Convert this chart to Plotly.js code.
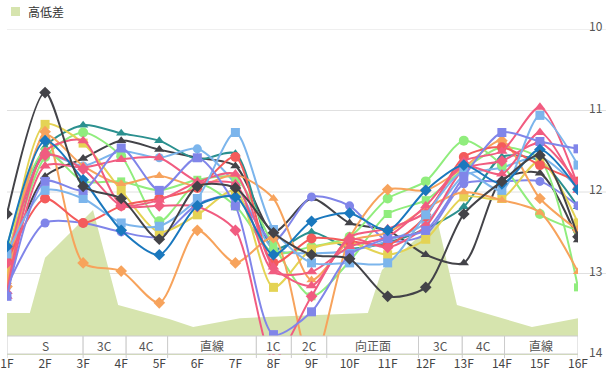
<!DOCTYPE html>
<html><head><meta charset="utf-8">
<script src="https://cdn.plot.ly/plotly-3.0.1.min.js"></script>
<style>html,body{margin:0;padding:0;background:#fff}#chart{width:611px;height:374px}</style>
</head><body><div id="chart"></div>
<script>
const categories = ['1F','2F','3F','4F','5F','6F','7F','8F','9F','10F','11F','12F','13F','14F','15F','16F'];

const darkDiamond    = [12.27,10.78,11.93,12.08,12.58,11.93,11.95,12.50,12.77,12.82,13.28,13.17,12.27,11.87,11.55,12.55];
const darkTriangle   = [12.90,11.81,11.59,11.37,11.48,11.58,11.68,12.49,12.08,12.38,12.47,12.77,12.87,11.85,11.77,12.59];
const tealTriangle   = [12.92,11.45,11.18,11.28,11.37,11.60,11.53,12.70,12.49,12.69,12.62,12.45,12.18,11.57,11.62,12.18];
const blueDiamond    = [12.67,11.37,11.85,12.47,12.77,12.17,12.06,12.77,12.36,12.26,12.47,11.98,11.67,11.90,11.48,11.97];
const lightBlueSquare= [12.76,11.98,12.08,12.38,12.42,12.08,11.27,12.46,12.87,12.87,12.87,12.28,11.75,11.98,11.06,11.67];
const lightBlueCircle= [12.80,11.55,11.68,11.50,11.58,11.47,11.90,12.70,12.75,12.72,12.60,12.38,11.80,11.70,11.57,11.95];
const purpleSquare   = [13.28,11.87,11.98,11.46,11.98,11.58,12.17,13.75,13.47,12.77,12.57,12.47,11.81,11.27,11.38,11.47];
const purpleCircle   = [13.16,12.38,12.38,12.49,12.55,12.15,12.05,12.60,12.06,12.17,12.60,12.52,11.90,11.87,11.87,12.17];
const pinkTriangle   = [13.28,11.68,11.70,11.60,11.58,11.87,11.90,12.98,12.98,12.67,12.55,12.17,11.68,11.78,11.27,11.98];
const pinkTriangle2  = [13.22,11.50,11.37,12.15,12.10,11.88,11.78,12.92,13.15,12.55,12.45,12.25,11.62,11.50,10.96,11.93];
const pinkDiamond    = [12.87,11.55,11.72,12.17,12.17,12.18,12.47,14.05,13.28,12.58,12.68,12.42,11.72,11.62,11.40,11.90];
const redCircle      = [12.85,12.08,12.38,12.17,12.08,11.95,11.57,12.87,12.57,12.60,12.65,12.30,11.57,11.45,11.67,11.87];
const orangeDiamond  = [13.16,11.26,12.87,12.97,13.36,12.47,12.87,12.56,14.15,12.57,11.97,11.98,11.70,11.37,12.08,12.47];
const orangeTriangle = [13.10,11.30,11.68,11.90,11.80,11.93,11.79,12.08,13.08,12.60,12.50,12.20,12.00,12.10,12.25,12.98];
const yellowSquare   = [12.95,11.17,11.40,11.98,12.49,12.28,11.98,13.17,12.70,12.62,12.77,12.58,12.06,12.08,11.62,12.38];
const greenSquare    = [12.66,11.50,11.87,11.87,11.98,11.85,11.83,12.65,13.28,12.85,12.27,12.10,11.72,11.45,11.60,13.17];
const greenCircle    = [12.97,11.57,11.27,11.56,12.36,11.90,12.17,12.75,12.67,12.55,12.08,11.87,11.37,11.67,12.27,12.47];

// elevation profile (高低差), position along course in furlong units
const elevX = [0,0.6,1,2.26,2.92,4.28,4.89,6.12,9.48,9.85,11.3,11.82,13.79,15];
const elevY = [1.29,1.29,2.98,4.45,1.53,1.10,0.86,1.13,1.29,2.61,4.14,1.53,0.86,1.13];

const sections = ['S','3C','4C','直線','1C','2C','向正面','3C','4C','直線'];
const sectionBounds = [0,2,3.13,4.22,6.55,7.47,8.40,10.81,11.96,13.07,15];
const yTicks = [10,11,12,13,14];

const FONT = '"Noto Sans CJK JP","Noto Sans",sans-serif';

const seriesDefs = [
  [darkTriangle,'#434348','triangle-up',9],
  [tealTriangle,'#2b908f','triangle-up',9],
  [lightBlueCircle,'#7cb5ec','circle',9],
  [purpleCircle,'#8085e9','circle',9],
  [greenCircle,'#90ed7d','circle',10],
  [greenSquare,'#90ed7d','square',8],
  [yellowSquare,'#e4d354','square',9],
  [orangeTriangle,'#f7a35c','triangle-up',9],
  [orangeDiamond,'#f7a35c','diamond',9],
  [redCircle,'#f45b5b','circle',10],
  [pinkDiamond,'#f15c80','diamond',9],
  [pinkTriangle2,'#f15c80','triangle-up',10],
  [pinkTriangle,'#f15c80','triangle-up',10],
  [lightBlueSquare,'#7cb5ec','square',9],
  [purpleSquare,'#8085e9','square',9],
  [blueDiamond,'#1a78be','diamond',9],
  [darkDiamond,'#434348','diamond',9]
];

const traces = [{
  x: elevX, y: elevY, type:'scatter', mode:'lines', fill:'tozeroy',
  fillcolor:'rgb(214,228,174)', line:{color:'rgb(214,228,174)', width:0},
  xaxis:'x', yaxis:'y', name:'高低差', hoverinfo:'skip'
}];
seriesDefs.forEach(([vals,color,sym,size])=>{
  traces.push({
    x: categories, y: vals, type:'scatter', mode:'lines+markers',
    line:{color:color, width:2, shape:'spline', smoothing:0.75},
    marker:{color:color, symbol:sym, size:size},
    xaxis:'x2', yaxis:'y2'
  });
});

const shapes = [];
yTicks.slice(0,4).forEach(v=>{
  shapes.push({type:'line', xref:'paper', yref:'y2', x0:0, x1:(606-7)/571, y0:v, y1:v,
    line:{color:'#e0e0e0', width:1}, layer:'below'});
});
const tTop = (355-336)/326, tBot = (355-354)/326;
for (let i=0;i<sections.length;i++){
  shapes.push({type:'rect', xref:'x', yref:'paper', x0:sectionBounds[i], x1:sectionBounds[i+1],
    y0:tBot, y1:tTop, fillcolor:'#ffffff', line:{color:'#cccccc', width:1}, layer:'above'});
}
sectionBounds.forEach(b=>{
  shapes.push({type:'line', xref:'x', yref:'paper', x0:b, x1:b, y0:tBot, y1:-(3/326),
    line:{color:'#cccccc', width:1}, layer:'above'});
});
shapes.push({type:'rect', xref:'paper', yref:'paper', x0:(11-7)/571, x1:(20-7)/571,
  y0:(355-16)/326, y1:(355-7)/326, fillcolor:'rgb(214,228,174)', line:{width:0}});

const annotations = sections.map((s,i)=>({
  text:s, xref:'x', yref:'paper', x:(sectionBounds[i]+sectionBounds[i+1])/2, y:(tTop+tBot)/2,
  showarrow:false, font:{family:FONT, size:12, color:'#555'}, xanchor:'center', yanchor:'middle'
}));
annotations.push({text:'高低差', xref:'paper', yref:'paper', x:(26-7)/571, y:(355-11.5)/326,
  showarrow:false, xanchor:'left', yanchor:'middle', font:{family:FONT, size:12, color:'#333'}});

const layout = {
  width:611, height:374, margin:{l:7, r:33, t:29, b:19, pad:0},
  paper_bgcolor:'#ffffff', plot_bgcolor:'rgba(0,0,0,0)', showlegend:false,
  xaxis:{type:'linear', range:[0,15], visible:false, fixedrange:true},
  yaxis:{type:'linear', range:[0,10], visible:false, fixedrange:true},
  xaxis2:{type:'category', overlaying:'x', anchor:'y2', side:'bottom', range:[0,15],
    showgrid:false, zeroline:false, showline:false, ticks:'',
    tickfont:{family:FONT, size:12, color:'#444'}},
  yaxis2:{overlaying:'y', anchor:'x2', side:'right', range:[14,10], tickvals:yTicks,
    showgrid:false, zeroline:false, showline:false, ticks:'', ticklabelstandoff:10, ticklabelshift:2,
    tickfont:{family:FONT, size:12, color:'#555'}},
  shapes:shapes, annotations:annotations
};

Plotly.newPlot('chart', traces, layout, {displayModeBar:false, staticPlot:true});
</script>
</body></html>
